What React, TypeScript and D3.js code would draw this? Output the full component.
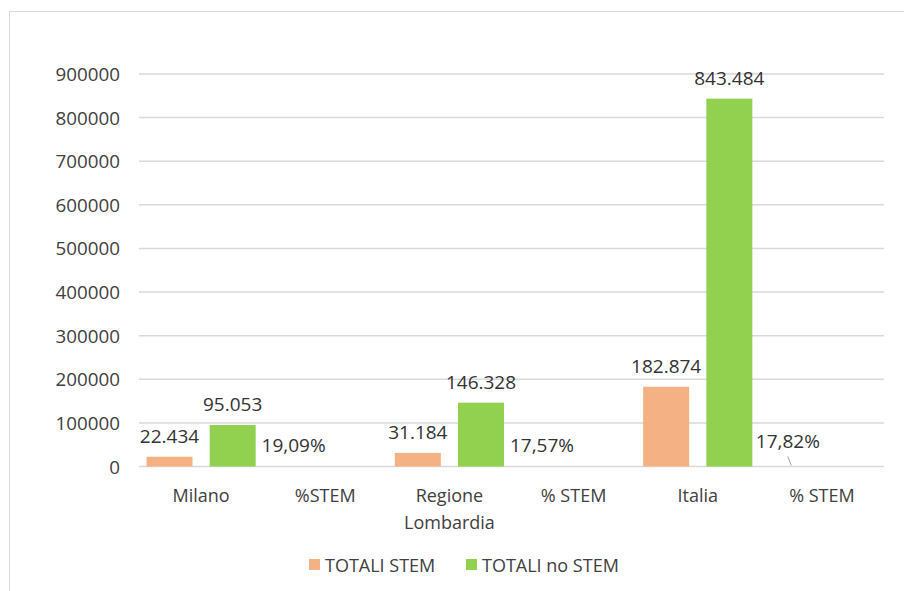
import React from "react";
import * as d3 from "d3";

const categories = ["Milano", "%STEM", "Regione\nLombardia", "% STEM", "Italia", "% STEM"];
const seriesNames = ["TOTALI STEM", "TOTALI no STEM"];
const stemValues = [22434, 0.1909, 31184, 0.1757, 182874, 0.1782];
const noStemValues: (number | null)[] = [95053, null, 146328, null, 843484, null];
const stemLabels = ["22.434", "19,09%", "31.184", "17,57%", "182.874", "17,82%"];
const noStemLabels = ["95.053", "", "146.328", "", "843.484", ""];
const yTicks = [0, 100000, 200000, 300000, 400000, 500000, 600000, 700000, 800000, 900000];
const colors = ["#F4B183", "#92D050"];

const W = 904;
const H = 591;
const FONT = "'Open Sans', sans-serif";

export default function App() {
  const x0 = d3.scaleBand<number>().domain(categories.map((_, i) => i)).range([139, 884]).padding(0);
  const x1 = d3
    .scaleBand<number>()
    .domain([0, 1])
    .range([7.5, x0.bandwidth() - 7.5])
    .paddingInner(0.272);
  const y = d3.scaleLinear().domain([0, 900000]).range([466.5, 74]);

  const series = [stemValues, noStemValues];
  const labels = [stemLabels, noStemLabels];

  return (
    <svg width={W} height={H} style={{ position: "absolute", left: 0, top: 0, background: "#fff" }}>
      <rect x={9.5} y={11.5} width={W + 10} height={H + 10} fill="#fff" stroke="#d9d9d9" strokeWidth={1} />
      {yTicks.map((t) => (
        <g key={t}>
          <line x1={139} x2={884} y1={y(t)} y2={y(t)} stroke="#d9d9d9" strokeWidth={1.5} />
          <text
            x={120}
            y={y(t)}
            textAnchor="end"
            dominantBaseline="central"
            fontFamily={FONT}
            fontSize={18.8}
            fill="#404040"
          >
            {t}
          </text>
        </g>
      ))}
      {series.map((vals, s) =>
        vals.map((v, i) =>
          v == null ? null : (
            <rect
              key={`b${s}-${i}`}
              x={(x0(i) as number) + (x1(s) as number)}
              y={y(v)}
              width={x1.bandwidth()}
              height={y(0) - y(v)}
              fill={colors[s]}
            />
          )
        )
      )}
      {series.map((vals, s) =>
        vals.map((v, i) => {
          if (v == null || !labels[s][i]) return null;
          const moved = s === 0 && i === 5;
          const cx = (x0(i) as number) + (x1(s) as number) + x1.bandwidth() / 2 + (moved ? -2.5 : 0);
          const cy = y(v) - 21 + (moved ? -4 : 0);
          return (
            <g key={`l${s}-${i}`}>
              {moved && (
                <line x1={cx} y1={cy + 15} x2={cx + 3.5} y2={y(v) - 1} stroke="#a6a6a6" strokeWidth={1} />
              )}
              <text
                x={cx}
                y={cy}
                textAnchor="middle"
                dominantBaseline="central"
                fontFamily={FONT}
                fontSize={19}
                fill="#333333"
              >
                {labels[s][i]}
              </text>
            </g>
          );
        })
      )}
      {categories.map((c, i) => {
        const lines = c.split("\n");
        const cx = (x0(i) as number) + x0.bandwidth() / 2;
        return (
          <text
            key={`c${i}`}
            textAnchor="middle"
            fontFamily={FONT}
            fontSize={18}
            fill="#404040"
          >
            {lines.map((ln, k) => (
              <tspan key={k} x={cx} y={495 + k * 27} dominantBaseline="central">
                {ln}
              </tspan>
            ))}
          </text>
        );
      })}
      {seriesNames.map((n, s) => {
        const lx = [309, 466][s];
        return (
          <g key={n}>
            <rect x={lx} y={559} width={11} height={11} fill={colors[s]} />
            <text
              x={lx + 16}
              y={565}
              dominantBaseline="central"
              fontFamily={FONT}
              fontSize={18}
              fill="#404040"
            >
              {n}
            </text>
          </g>
        );
      })}
    </svg>
  );
}
